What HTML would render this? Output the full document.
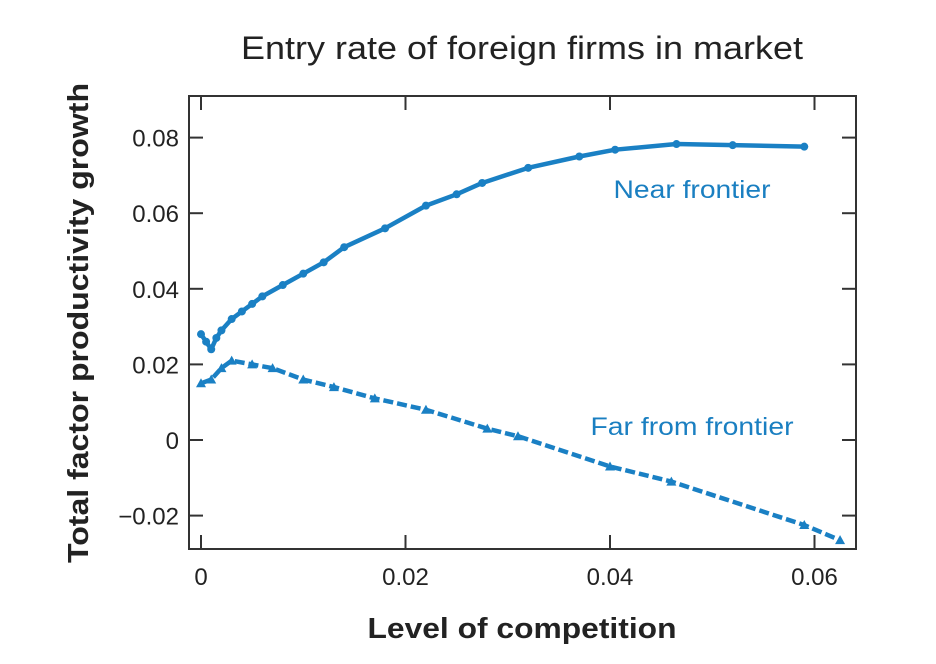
<!DOCTYPE html>
<html><head><meta charset="utf-8"><style>
body{margin:0;background:#fff;}
svg{display:block;font-family:"Liberation Sans",sans-serif;}
</style></head><body>
<svg id="c" width="936" height="664">
<text x="522" y="59" text-anchor="middle" font-size="32" fill="#222" textLength="562" lengthAdjust="spacingAndGlyphs">Entry rate of foreign firms in market</text>
<rect x="189" y="96" width="667" height="453" fill="none" stroke="#333" stroke-width="2"/>
<g id="ticks"></g>
<g id="marks"></g>
<text x="692" y="198" text-anchor="middle" font-size="25" fill="#1a7fc1" textLength="157" lengthAdjust="spacingAndGlyphs">Near frontier</text>
<text x="692" y="435" text-anchor="middle" font-size="25" fill="#1a7fc1" textLength="203" lengthAdjust="spacingAndGlyphs">Far from frontier</text>
<text x="522" y="638" text-anchor="middle" font-size="29" font-weight="bold" fill="#222" textLength="309" lengthAdjust="spacingAndGlyphs">Level of competition</text>
<text transform="translate(88,323) rotate(-90)" text-anchor="middle" font-size="29" font-weight="bold" fill="#222" textLength="480" lengthAdjust="spacingAndGlyphs">Total factor productivity growth</text>
</svg>
<script>
const xTicks=[0,0.02,0.04,0.06];
const xTickLabels=["0","0.02","0.04","0.06"];
const yTicks=[0.08,0.06,0.04,0.02,0,-0.02];
const yTickLabels=["0.08","0.06","0.04","0.02","0","\u22120.02"];
const nearX=[0,0.0005,0.001,0.0015,0.002,0.003,0.004,0.005,0.006,0.008,0.010,0.012,0.014,0.018,0.022,0.025,0.0275,0.032,0.037,0.0405,0.0465,0.052,0.059];
const nearY=[0.028,0.026,0.024,0.027,0.029,0.032,0.034,0.036,0.038,0.041,0.044,0.047,0.051,0.056,0.062,0.065,0.068,0.072,0.075,0.0768,0.0783,0.078,0.0776];
const farX=[0,0.001,0.002,0.003,0.005,0.007,0.010,0.013,0.017,0.022,0.028,0.031,0.040,0.046,0.059,0.0625];
const farY=[0.015,0.016,0.019,0.021,0.020,0.019,0.016,0.014,0.011,0.008,0.003,0.001,-0.007,-0.011,-0.0225,-0.0265];
const NS="http://www.w3.org/2000/svg";
const sx=v=>201+v*10225, sy=v=>440-v*3780;
const T=document.getElementById('ticks'),M=document.getElementById('marks');
function mk(t,a,p){const e=document.createElementNS(NS,t);for(const k in a)e.setAttribute(k,a[k]);p.appendChild(e);return e;}
xTicks.forEach((v,i)=>{const x=sx(v);
 let l=mk('line',{x1:x,x2:x,y1:549,y2:535,stroke:'#333','stroke-width':2},T);
 
 
 let l2=mk('line',{x1:x,x2:x,y1:96,y2:110,stroke:'#333','stroke-width':2},T);
 
 
 let t=mk('text',{x:x,y:585,'text-anchor':'middle','font-size':24,fill:'#222'},T);t.textContent=xTickLabels[i];
 
 
});
yTicks.forEach((v,i)=>{const y=sy(v);
 let l=mk('line',{x1:189,x2:203,y1:y,y2:y,stroke:'#333','stroke-width':2},T);
 
 
 let l2=mk('line',{x1:842,x2:856,y1:y,y2:y,stroke:'#333','stroke-width':2},T);
 
 
 let t=mk('text',{x:179,y:y+9,'text-anchor':'end','font-size':24,fill:'#222'},T);t.textContent=yTickLabels[i];
 
 
});
const col='#1a80c4';
let p=mk('polyline',{points:nearX.map((x,i)=>sx(x)+','+sy(nearY[i])).join(' '),fill:'none',stroke:col,'stroke-width':4.5,'stroke-linejoin':'round','stroke-linecap':'round'},M);


let q=mk('polyline',{points:farX.map((x,i)=>sx(x)+','+sy(farY[i])).join(' '),fill:'none',stroke:col,'stroke-width':4.5,'stroke-dasharray':'10 4'},M);


nearX.forEach((x,i)=>{let c=mk('circle',{cx:sx(x),cy:sy(nearY[i]),r:4,fill:col},M);
 
 });
farX.forEach((x,i)=>{const X=sx(x),Y=sy(farY[i]);let c=mk('polygon',{points:`${X},${Y-5} ${X-5},${Y+4} ${X+5},${Y+4}`,fill:col},M);
 
 });
</script>
</body></html>
